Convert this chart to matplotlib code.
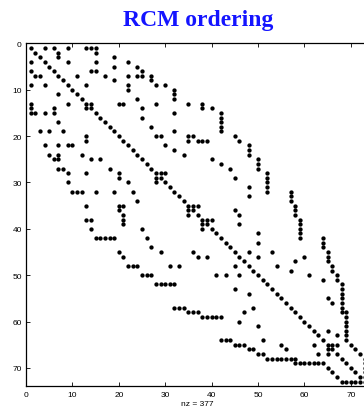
import numpy as np
import matplotlib
matplotlib.use('Agg')
import matplotlib.pyplot as plt

# sparsity pattern (1-based), symmetric: only the part below the diagonal is listed
n = 73
rows_lower = [
    4, 6, 7, 7, 9, 9, 11, 13, 13, 14, 14, 14,
    15, 15, 15, 15, 17, 19, 19, 19, 20, 21,
    22, 22, 22, 22, 24, 24, 24, 25, 25, 25, 25,
    27, 27, 27, 28, 28, 28, 29, 29, 30, 30, 30,
    32, 32, 32, 32, 32, 32, 34, 35, 35, 35, 36, 36, 37, 37,
    38, 38, 38, 39, 39, 40, 40, 40,
    42, 42, 42, 42, 42, 42, 44, 45, 45, 45, 46, 46, 46,
    48, 48, 48, 48, 48, 48, 50, 50, 50, 50, 50, 50,
    52, 52, 52, 52, 52, 53, 54, 57, 57, 57, 57, 58, 58, 58, 58,
    59, 59, 59, 59, 59, 60, 61, 64, 64, 64, 64,
    65, 65, 65, 65, 65, 66, 66, 66, 66, 67, 67, 67, 67,
    68, 68, 68, 68, 68, 68, 68, 69, 69, 69, 69, 69, 69, 69,
    70, 71, 72, 73, 73, 73, 73, 73,
]
cols_lower = [
    1, 1, 2, 3, 1, 4, 7, 1, 9, 1, 6, 13,
    1, 2, 4, 6, 7, 3, 5, 8, 13, 13,
    4, 7, 9, 10, 5, 7, 12, 6, 7, 14, 16,
    7, 8, 18, 9, 13, 20, 20, 28, 9, 22, 28,
    10, 11, 12, 15, 19, 23, 24, 13, 20, 21, 20, 35, 21, 35,
    13, 14, 21, 21, 38, 14, 25, 38,
    15, 16, 17, 18, 19, 26, 27, 20, 29, 36, 21, 37, 39,
    22, 23, 24, 31, 33, 45, 25, 26, 27, 41, 43, 46,
    28, 29, 30, 31, 32, 45, 48, 32, 33, 34, 49, 35, 36, 37, 47,
    38, 39, 40, 41, 42, 46, 50, 42, 43, 44, 51,
    45, 46, 47, 55, 62, 48, 49, 56, 65, 50, 51, 63, 65,
    52, 53, 54, 55, 56, 57, 58, 58, 59, 60, 61, 62, 63, 64,
    65, 66, 67, 68, 69, 70, 71, 72,
]
tick_vals = [0, 10, 20, 30, 40, 50, 60, 70]

diag = np.arange(1, n + 1)
r = np.concatenate([rows_lower, cols_lower, diag])
c = np.concatenate([cols_lower, rows_lower, diag])
nz = len(r)

fig = plt.figure(figsize=(3.64, 4.14), dpi=100)
# axes runs past the right edge of the picture, as in the original screenshot
ax = fig.add_axes([26 / 364, 26.6 / 414, 343.4 / 364, 343 / 414])

ax.plot(c, r, linestyle='none', marker='o', ms=3.1, mew=0, color='black')

ax.set_xlim(0, n + 1)
ax.set_ylim(n + 1, 0)
ax.set_xticks(tick_vals)
ax.set_yticks(tick_vals)
ax.tick_params(direction='in', top=True, right=True, length=3, width=0.6,
               labelsize=6, pad=3)
for lab in ax.get_xticklabels() + ax.get_yticklabels():
    lab.set_fontfamily('Liberation Sans')
for sp in ax.spines.values():
    sp.set_linewidth(0.9)

ax.set_xlabel('nz = %d' % nz, fontsize=6, family='Liberation Sans', labelpad=1.5)
ax.set_title('RCM ordering', fontsize=17, fontweight='bold', color='#1414ff',
             family='Liberation Serif', pad=13)

fig.savefig('out.png', dpi=100)
